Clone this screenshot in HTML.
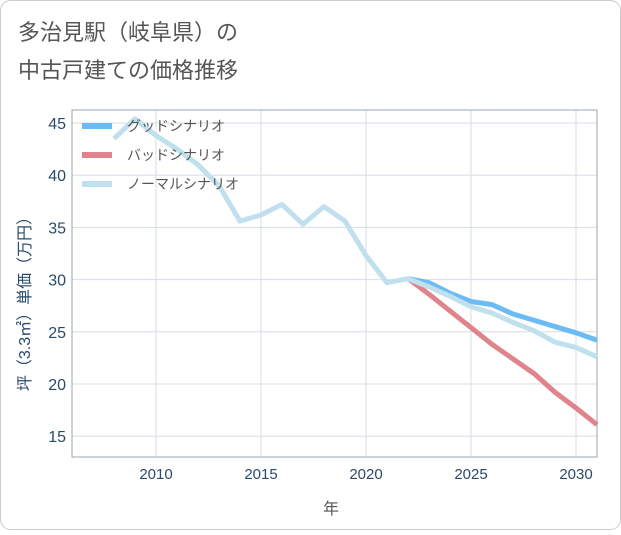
<!DOCTYPE html>
<html><head><meta charset="utf-8"><style>
body{margin:0;background:#fff;font-family:"Liberation Sans","Noto Sans CJK JP",sans-serif;}
#wrap{position:relative;width:621px;height:530px;}
</style></head><body><div id="wrap">
<svg id="c" width="621" height="530" xmlns="http://www.w3.org/2000/svg">
<rect x="0.5" y="0.5" width="620" height="529" rx="10" fill="#fff" stroke="#ccc"/>
<text x="18" y="40" font-size="22" fill="#555">多治見駅（岐阜県）の</text>
<text x="18" y="78" font-size="22" fill="#555">中古戸建ての価格推移</text>
<g id="grid"></g><g id="series"></g>
<text x="331" y="514" font-size="16" fill="#555" text-anchor="middle">年</text>
<text transform="translate(30,300) rotate(-90)" font-size="16" fill="#2a4a6a" text-anchor="middle">坪（3.3㎡）単価（万円）</text>
<g id="legend"></g>
</svg></div>
<script>
const years=[2008,2009,2010,2011,2012,2013,2014,2015,2016,2017,2018,2019,2020,2021,2022,2023,2024,2025,2026,2027,2028,2029,2030,2031];
const normalVals=[43.5,45.4,43.8,42.5,41,39,35.6,36.2,37.2,35.3,37,35.6,32.3,29.7,30.1,29.3,28.4,27.4,26.8,25.9,25.1,24.0,23.5,22.6];
const goodYears=[2022,2023,2024,2025,2026,2027,2028,2029,2030,2031];
const goodVals=[30.1,29.7,28.7,27.9,27.6,26.7,26.1,25.5,24.9,24.2];
const badVals=[30.1,28.6,27.0,25.4,23.8,22.4,21.0,19.2,17.7,16.1];
const xTicks=[2010,2015,2020,2025,2030];
const yTicks=[15,20,25,30,35,40,45];
const L=72,R=597,T=110,B=457,X0=2006,X1=2031,Y0=13,Y1=46.25;
const sx=v=>L+(v-X0)/(X1-X0)*(R-L), sy=v=>B-(v-Y0)/(Y1-Y0)*(B-T);
const NS="http://www.w3.org/2000/svg";
function mk(t,a,p){const e=document.createElementNS(NS,t);for(const k in a)e.setAttribute(k,a[k]);p.appendChild(e);return e;}
const g=document.getElementById('grid');
xTicks.forEach(v=>{const l=mk('line',{x1:sx(v),x2:sx(v),y1:T,y2:B,stroke:'#d5dde6'},g);


const t=mk('text',{x:sx(v),y:B+22,'font-size':15,fill:'#2a4a6a','text-anchor':'middle'},g);t.textContent=v;

});
yTicks.forEach(v=>{const l=mk('line',{x1:L,x2:R,y1:sy(v),y2:sy(v),stroke:'#d5dde6'},g);


const t=mk('text',{x:L-6,y:sy(v)+6,'font-size':16,fill:'#2a4a6a','text-anchor':'end'},g);t.textContent=v;

});
const ax=mk('rect',{x:L,y:T,width:R-L,height:B-T,fill:'none',stroke:'#9aa6b2'},g);


const s=document.getElementById('series');
function line(xs,ys,c,n){const p=mk('polyline',{points:xs.map((x,i)=>sx(x)+','+sy(ys[i])).join(' '),fill:'none',stroke:c,'stroke-width':5,'stroke-linejoin':'round'},s);

}
line(goodYears,badVals,'#e0848c','bad-scenario-line');
line(goodYears,goodVals,'#6bbcf5','good-scenario-line');
line(years,normalVals,'#bfe0ec','normal-scenario-line');
const lg=document.getElementById('legend');
[['グッドシナリオ','#6bbcf5'],['バッドシナリオ','#e0848c'],['ノーマルシナリオ','#bfe0ec']].forEach((d,i)=>{
const y=126+i*29;const gg=mk('g',{},lg);


mk('line',{x1:82,x2:112,y1:y,y2:y,stroke:d[1],'stroke-width':6},gg);
const t=mk('text',{x:127,y:y+5,'font-size':14,fill:'#555'},gg);t.textContent=d[0];});
</script></body></html>
